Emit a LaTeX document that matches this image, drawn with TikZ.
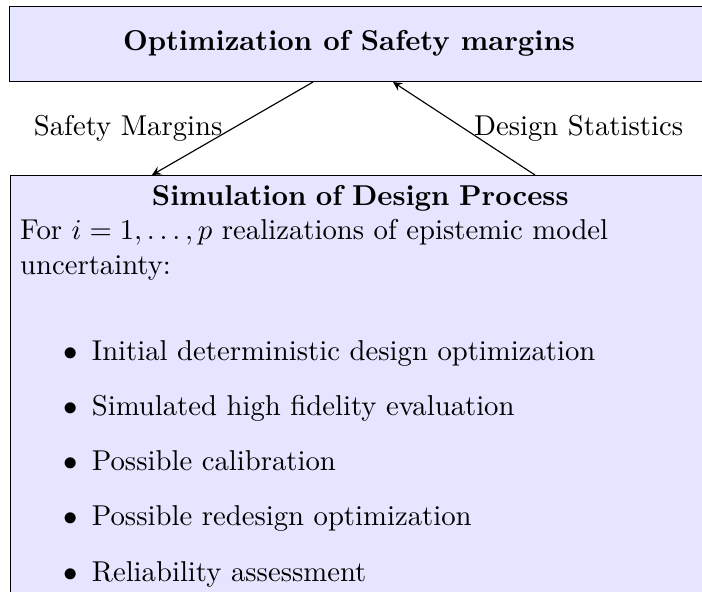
\documentclass[tikz,border=0pt]{standalone}
\usepackage{amsmath}
\tikzset{
  stagebox/.style={draw, fill=blue!10},
  flow/.style={-stealth},
}
\renewcommand{\labelitemi}{$\bullet$}
\begin{document}
\begin{tikzpicture}[x=0.3484pt,y=-0.3484pt]
        \useasboundingbox (0,0) rectangle (702,592);
        \clip (0,0) rectangle (702,592);
        % upper stage
        \node[stagebox, anchor=north west, minimum width=260pt, minimum height=26.1pt] (optim) at (9,6) {};
        \node[font=\bfseries] (optimtitle) at (349,43.5) {Optimization of Safety margins};
        % lower stage
        \node[stagebox, anchor=north west, text width=237pt, align=left] (sim) at (10,175) {%
            \centering\textbf{Simulation of Design Process}\par\raggedright
            For $i=1,\dots,p$ realizations of epistemic model uncertainty:\par
            \vspace{8pt}
            \begin{itemize}\setlength{\itemsep}{3.25pt}
                \item Initial deterministic design optimization
                \item Simulated high fidelity evaluation
                \item Possible calibration
                \item Possible redesign optimization
                \item Reliability assessment
            \end{itemize}};
        % exchanged quantities
        \coordinate (marginsx) at (313,0);
        \coordinate (marginsy) at (152,0);
        \coordinate (statsx) at (535,0);
        \coordinate (statsy) at (393,0);
        \draw[flow] (optim.south -| marginsx) -- node[left] {Safety Margins} (sim.north -| marginsy);
        \draw[flow] (sim.north -| statsx) -- node[right] {Design Statistics} (optim.south -| statsy);
    \end{tikzpicture}
\end{document}
